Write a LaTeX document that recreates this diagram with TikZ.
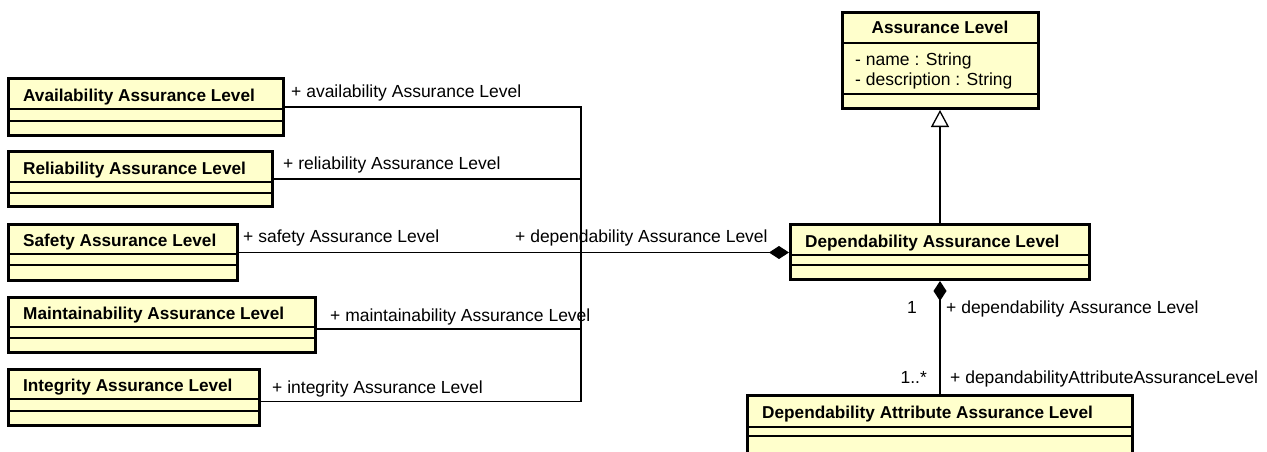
\documentclass[tikz,border=0pt]{standalone}
\usepackage{fontspec}
\setmainfont{Liberation Sans}
\usetikzlibrary{arrows.meta}
\definecolor{clsfill}{RGB}{255,255,204}
\tikzset{
  cls/.style={draw=black, fill=clsfill, line width=3pt, inner sep=0pt, outer sep=1.5pt, rectangle},
  divline/.style={draw=black, line width=1.5pt},
  ttl/.style={font=\fontsize{17.2}{20}\selectfont\bfseries, inner sep=0pt, anchor=base west},
  lbl/.style={font=\fontsize{17.5}{20}\selectfont, inner sep=0pt, anchor=base west},
  conn/.style={draw=black, line width=1.3pt},
  comptip/.tip={Diamond[length=20pt,width=13pt]},
  gentip/.tip={Triangle[length=17pt,width=18pt,fill=white]},
}
% #1 name, #2 x1, #3 y1, #4 x2, #5 y2 (outer), #6 title, #7 d1, #8 d2
\newcommand\umlclass[8]{%
  \node[cls, minimum width={(#4-#2)*1pt-3pt}, minimum height={(#5-#3)*1pt-3pt}]
    (#1) at ({(#2+#4)/2},{(#3+#5)/2}) {};
  \draw[divline] (#2+1.5,#7) -- (#4-1.5,#7);
  \draw[divline] (#2+1.5,#8) -- (#4-1.5,#8);
  \node[ttl] (#1-t) at ({#2+16},{(#3+#7)/2+8.3}) {#6};
}
\begin{document}
\begin{tikzpicture}[x=1pt,y=-1pt]
\fill[white] (0,0) rectangle (1267,452);
\clip (0,0) rectangle (1267,452);

\umlclass{av}{7}{77}{285}{137}{Availability Assurance Level}{109}{121}
\umlclass{rl}{7}{150}{274}{208}{Reliability Assurance Level}{182}{193}
\umlclass{sf}{7}{223}{239}{282}{Safety Assurance Level}{254}{265}
\umlclass{mt}{7}{296}{317}{354}{Maintainability Assurance Level}{327}{338}
\umlclass{ig}{7}{368}{261}{427}{Integrity Assurance Level}{399}{411}
\umlclass{dal}{789}{223}{1091}{281}{Dependability Assurance Level}{255}{265}
\umlclass{daal}{746}{394}{1134}{475}{Dependability Attribute Assurance Level}{427}{436}

% Assurance Level (abstract parent)
\node[cls, minimum width=196pt, minimum height=96pt] (al) at (940,60.5) {};
\draw[divline] (842,43) -- (1038,43);
\draw[divline] (842,94) -- (1038,94);
\node[ttl, anchor=base] (al-t) at (940,34) {Assurance Level};
\node[lbl] (al-a1) at (855,66) {- name : String};
\node[lbl] (al-a2) at (855,85) {- description : String};

% aggregation junction
\coordinate (j) at (581,252);
\draw[conn] (av.east) -| (j);
\draw[conn] (rl.east) -| (j);
\draw[conn] ([yshift=-4pt]mt.east) -| (j);
\draw[conn] ([yshift=-4pt]ig.east) -| (j);
\draw[conn, -comptip] (sf.east) -- (sf.east -| dal.west);

% composition to attribute level
\draw[conn, comptip-] (dal.south) -- (daal.north);

% generalization
\draw[conn, gentip-] (al.south) -- (dal.north);

% role labels
\node[lbl] (l1) at (291,97) {+ availability Assurance Level};
\node[lbl] (l2) at (283,169) {+ reliability Assurance Level};
\node[lbl] (l3) at (243,242) {+ safety Assurance Level};
\node[lbl] (l4) at (515,242) {+ dependability Assurance Level};
\node[lbl] (l5) at (330,321) {+ maintainability Assurance Level};
\node[lbl] (l6) at (272,393) {+ integrity Assurance Level};
\node[lbl, anchor=base east] (m1) at (917,313) {1};
\node[lbl] (r1) at (946,313) {+ dependability Assurance Level};
\node[lbl, anchor=base east] (m2) at (927,383) {1..*};
\node[lbl] (r2) at (950,383) {+ depandabilityAttributeAssuranceLevel};
\end{tikzpicture}
\end{document}
